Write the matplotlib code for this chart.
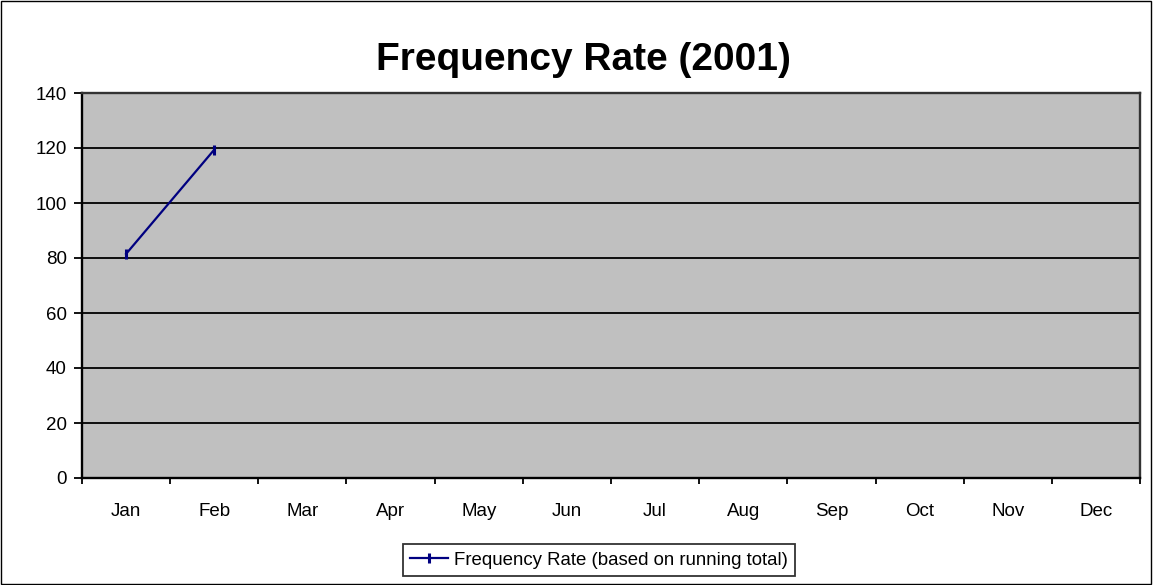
import matplotlib
matplotlib.use("Agg")
import matplotlib.pyplot as plt
import numpy as np

months = ["Jan", "Feb", "Mar", "Apr", "May", "Jun", "Jul", "Aug", "Sep", "Oct", "Nov", "Dec"]
freq_rate = [81.5, 119.4, None, None, None, None, None, None, None, None, None, None]
y_ticks = [0, 20, 40, 60, 80, 100, 120, 140]
title = "Frequency Rate (2001)"
series_label = "Frequency Rate (based on running total)"

plt.rcParams['font.family'] = ['Liberation Sans', 'DejaVu Sans']

fig = plt.figure(figsize=(11.53, 5.85), dpi=100)
fig.patch.set_facecolor("white")
# figure border
fig.add_artist(plt.Rectangle((0.0005, 0.001), 0.998, 0.997, transform=fig.transFigure,
                             fill=False, edgecolor="black", linewidth=1.0))

ax = fig.add_axes([82/1153, 1-478/585, (1140-82)/1153, (478-93)/585])
ax.set_facecolor("#C0C0C0")

x = np.arange(len(months))
y = np.array([np.nan if v is None else v for v in freq_rate], dtype=float)
line, = ax.plot(x, y, color="#000080", linewidth=1.6, marker="|", markersize=7,
                markeredgewidth=2.2, label=series_label)

ax.set_xlim(-0.5, len(months) - 0.5)
ax.set_ylim(y_ticks[0], y_ticks[-1])
ax.set_yticks(y_ticks)
ax.set_yticklabels([str(t) for t in y_ticks], fontsize=13.5)
for t in y_ticks[1:]:
    ax.axhline(t, color="black", linewidth=1.3, zorder=1)

ax.set_xticks(np.arange(-0.5, len(months)), minor=False)
ax.set_xticklabels([])
ax.set_xticks(x, minor=True)
ax.set_xticklabels(months, minor=True, fontsize=13.5)
ax.tick_params(axis="x", which="major", length=4.5, width=1.3, direction="out", color="black")
ax.tick_params(axis="x", which="minor", length=0, pad=18)
ax.tick_params(axis="y", length=6, width=1.3, direction="out", pad=5)

for s in ["left", "bottom"]:
    ax.spines[s].set_color("black")
    ax.spines[s].set_linewidth(1.7)
for s in ["right", "top"]:
    ax.spines[s].set_color("#333333")
    ax.spines[s].set_linewidth(1.7)

fig.text(583/1153, 1-70/585, title, ha="center", va="baseline", fontsize=28, fontweight="bold")

leg = fig.legend(handles=[line], loc="center", bbox_to_anchor=(599/1153, 1-560/585),
                 fontsize=13.4, frameon=True, fancybox=False, edgecolor="black",
                 handlelength=2.05, handletextpad=0.3, borderpad=0.4, borderaxespad=0)
leg.get_frame().set_linewidth(1.3)

fig.savefig("out.png", dpi=100, facecolor="white")
